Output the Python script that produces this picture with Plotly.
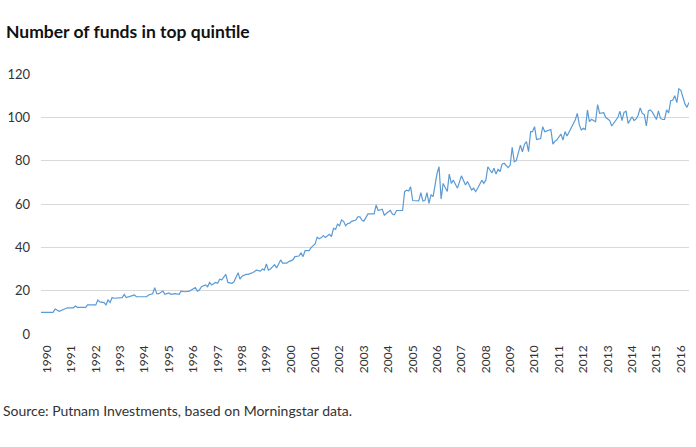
import pandas as pd
import plotly.graph_objects as go

# Month offsets from January 1990 and number of funds in the top quintile
month_offset = [
    0, 6, 7, 9, 13, 16, 17, 18, 22, 23, 27, 28, 29, 31, 32, 33, 34, 35, 36, 40, 41, 42,
    45, 46, 47, 52, 53, 55, 56, 57, 58, 60, 61, 63, 64, 66, 68, 69, 71, 73, 74, 76, 77, 78,
    79, 81, 82, 83, 84, 86, 87, 88, 89, 91, 92, 94, 95, 97, 98, 99, 101, 102, 104, 105, 106,
    108, 109, 110, 111, 112, 113, 114, 115, 116, 118, 119, 121, 122, 124, 125, 127, 128, 129,
    130, 132, 133, 135, 136, 137, 138, 139, 140, 142, 143, 144, 145, 146, 147, 148, 149, 150,
    151, 152, 153, 155, 156, 157,
    158, 159, 161, 164, 165, 166, 168, 169, 170, 172, 173, 174, 175, 177, 178, 179, 180, 181,
    182, 183, 186, 187, 188, 189, 190, 191, 192, 193, 194, 195, 196, 197, 198, 200, 201, 202,
    203, 204, 205, 207, 208, 209, 210, 211, 212, 213, 214, 215, 217, 218, 219, 220, 222, 223,
    224, 225, 226, 227, 228, 230, 231, 232, 233, 234, 235, 236, 237, 238,
    239, 240, 241, 242, 243, 244, 246, 247, 248, 249, 251, 252, 253, 254, 256, 257, 258, 259,
    260, 262, 263, 264, 265, 266, 267, 268, 269, 270, 271, 273, 274, 275, 277, 278, 280, 281,
    282, 284, 285, 286, 287, 288, 289, 291, 292, 293, 294, 295, 296, 297, 298, 299, 300, 301,
    303, 304, 305, 306, 307, 308, 309, 310, 311, 312, 313, 314, 315, 316, 317, 318, 319,
]
funds = [
    10, 10, 11.5, 10.5, 12.1, 12.1, 12.9, 12.3, 12.3, 13.4, 13.4, 15.7, 14.8, 14.5, 13.4, 15.7,
    14.5, 16.8, 16.5, 16.8, 18.3, 16.8, 17.7, 18, 17.2, 17.2, 18, 18.6, 21.4, 18.6, 18.6, 19.8,
    18.3, 19, 18.3, 18.6, 18.3, 19.8, 19.5, 19.8, 20.3, 21.4, 19.8, 20.3,
    21.8, 22.6, 21.8, 23.8, 22.6, 23.8, 23.4, 25.3, 25, 27.5, 23.8, 23.4, 24.1, 28.3, 25.3, 26.7,
    27.5, 27.5, 28.3, 28.7, 29.5, 29, 30, 29.5, 32.3, 29.5, 30, 31.1, 32, 30.5, 34.2, 32.7, 32.7,
    33.4, 34.2, 35.7, 36, 37.4, 35.7, 38.5, 38.5, 40, 41.6, 44.7, 44, 44.5, 45.4, 44.5, 46, 45,
    48.8, 48.3, 50.7, 50, 52.6, 52, 50, 51, 51.2, 52, 52.6, 54.1, 54.1,
    52.6, 52.1, 55.4, 55.4, 59.5, 57, 57.6, 54.8, 55.6, 57, 55.4, 55, 57, 56.8, 57, 65.7, 66.4,
    66, 68, 61.6, 61.4, 65.2, 61.4, 61.6, 65.2, 60.3, 64.2, 63.4, 69.2, 74.1, 77.2, 62.3, 69.5,
    65.8, 73.8, 69.5, 71, 68.8, 67.3, 73, 71, 68.8, 70.4, 68, 66.5, 67.3, 65.7, 67.3, 71, 69.5,
    71, 77.2, 74.3, 76.5, 73.8, 76, 75, 78.4, 78.8, 76.8, 78, 86.2, 79.5, 80, 83.4, 87.2, 84.1,
    87.6,
    88.8, 84.2, 93.4, 93.4, 95.7, 89.8, 90.2, 95.7, 93.4, 93.8, 94.4, 87.6, 89, 89.5, 92.3, 89.5,
    93.4, 91.4, 93.4, 97.2, 98.8, 101.8, 96.5, 94.2, 95, 94.4, 103.4, 98, 99.1, 98, 105.9, 101.8,
    102.1, 100, 98.5, 96, 97.2, 100, 102.8, 98.5, 102.3, 102.8, 97.2, 100.3, 98.5, 99.3, 101,
    104.3, 101.8, 101.2, 96, 103, 103.4, 102.3, 99, 103, 99.5, 99, 99, 103.4, 102.1, 107.7,
    107.9, 110, 106.8, 113.2, 112.5, 109.5, 106.2, 104.6, 106.8,
]
years = list(range(1990, 2017))
y_ticks = [0, 20, 40, 60, 80, 100, 120]

title_text = "Number of funds in top quintile"
source_text = "Source: Putnam Investments, based on Morningstar data."

start = pd.Timestamp("1990-01-01")
dates = [start + pd.DateOffset(months=m) for m in month_offset]

W, H = 696, 447
ML, MR, MT, MB = 41, 7, 74, 113
pw = W - ML - MR
ph = H - MT - MB


def px_x(x):
    return (x - ML) / pw


def px_y(y):
    return (H - MB - y) / ph


fig = go.Figure()
fig.add_trace(go.Scatter(
    x=dates, y=funds, mode="lines",
    line=dict(color="#5b9bd5", width=1.2),
    hoverinfo="x+y",
))

tickvals = [pd.Timestamp(f"{y}-04-01") for y in years]

fig.update_layout(
    width=W, height=H,
    margin=dict(l=ML, r=MR, t=MT, b=MB, autoexpand=False),
    paper_bgcolor="white", plot_bgcolor="white",
    showlegend=False,
    font=dict(family="Lato", color="#333333"),
    xaxis=dict(
        range=[dates[0], dates[-1]],
        tickvals=tickvals, ticktext=[str(y) for y in years],
        tickangle=-90, tickfont=dict(size=12, color="#333333"),
        showgrid=False, zeroline=False, showline=False,
        ticks="", ticklabelstandoff=8,
    ),
    yaxis=dict(
        range=[0, 120], tickvals=y_ticks,
        tickfont=dict(size=13, color="#333333"),
        showgrid=True, gridcolor="#d9d9d9", gridwidth=1,
        zeroline=False, showline=False, ticks="", ticklabelstandoff=10,
    ),
    annotations=[
        dict(text=f"<b>{title_text}</b>", x=px_x(4), y=px_y(32),
             xref="paper", yref="paper",
             showarrow=False, xanchor="left", yanchor="middle",
             font=dict(size=17.5, color="#111111", family="Lato")),
        dict(text=source_text, x=px_x(1), y=px_y(410),
             xref="paper", yref="paper", showarrow=False,
             xanchor="left", yanchor="middle",
             font=dict(size=14, color="#333333", family="Lato")),
    ],
)

fig.write_html("out.html", config={"displayModeBar": False},
               post_script="document.body.style.margin='0';")
